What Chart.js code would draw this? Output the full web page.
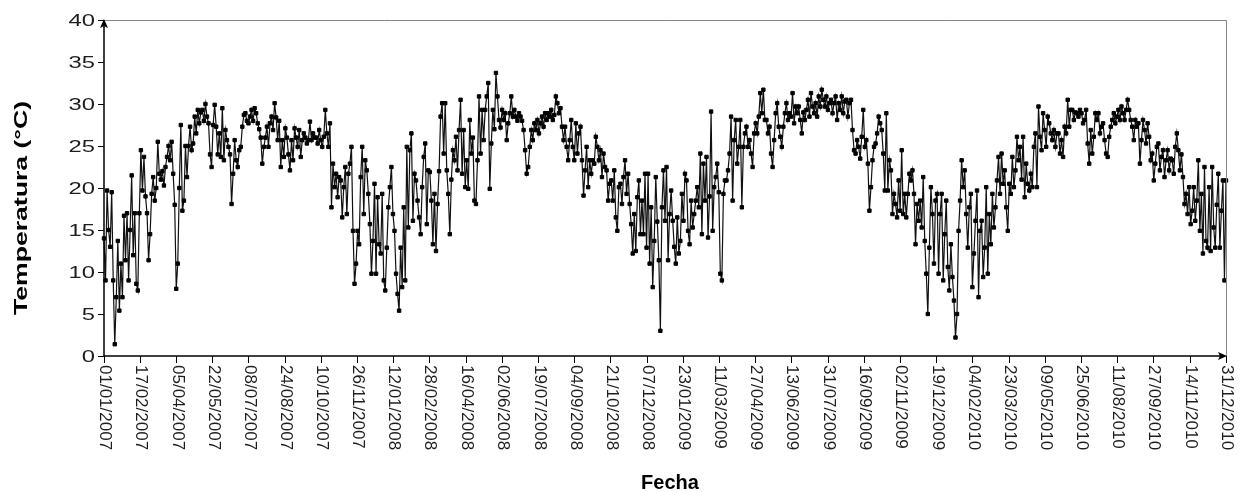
<!DOCTYPE html>
<html>
<head>
<meta charset="utf-8">
<title>Temperatura 2007-2010</title>
<script src="https://cdn.jsdelivr.net/npm/chart.js@4.4.1/dist/chart.umd.min.js"></script>
<style>
  html, body { margin: 0; padding: 0; background: #fff; }
  canvas { display: block; }
</style>
</head>
<body>
<canvas id="temp-chart" width="1247" height="492"></canvas>
<script>
// Temperature every second day, starting 01/01/2007
const dayStep = 2;

const temps2007 = [
    14, 9, 19.7, 15, 13, 19.5, 9, 1.4, 7, 13.7,
    5.4, 11, 7, 16.7, 11.4, 17, 9, 15, 21.5, 12,
    17, 8.6, 7.8, 17, 24.5, 19.7, 23.7, 19, 17, 11.4,
    14.5, 19.3, 21.3, 18.5, 20, 25.5, 21.7, 21, 22, 20.3,
    22.5, 23.7, 25, 23.3, 25.5, 21.7, 18, 8, 11, 20,
    27.5, 17.3, 18.5, 25, 21.3, 25, 27.3, 24.5, 25.3, 28.5,
    26.5, 29.3, 27.7, 29, 29.3, 28, 30, 28.5, 27.7, 24,
    22.5, 27.5, 29.9, 27.3, 24, 26.5, 23.7, 29.5, 23.3, 26.9,
    25.7, 24.9, 24, 18.1, 21.7, 25.7, 23.3, 22.5, 24.5, 24.9,
    27.3, 28.7, 28.9, 28, 27.7, 28.5, 29.3, 28, 29.5, 28.9,
    27.7, 27, 26, 22.9, 24.9, 26, 27.3, 24.9, 27.7, 28.5,
    26.9, 30.1, 28.4, 25.7, 28, 22.5, 25.7, 23.7, 27.1, 26,
    24, 22.1, 25.7, 23.3, 27.1, 26, 24.9, 26.9, 23.7, 25.7,
    26.5, 26, 25.3, 25.7, 27.9, 25.7, 26.5, 26, 26, 25.3,
    26.9, 25.7, 24.9, 26.1, 29.3, 26.5, 24.9, 27.7, 17.7, 22.9,
    20.1, 21.7, 18.9, 21.3, 20.9, 16.5, 20.1, 22.5, 16.9, 21.7,
    22.9, 24.9, 14.9, 8.6, 11, 14.9, 13.3, 21.3, 24.9, 16.9,
    23.3, 22.1, 19.3, 15.7, 9.8, 13.7, 20.5, 9.8, 18.9, 13.3,
    12.2, 19.3, 9
];

const temps2008 = [
    7.8, 12.9, 17.7, 20.1, 22.5, 16.9, 14.9, 9.8, 7.4, 5.4,
    12.9, 8.2, 17.7, 9, 24.9, 15.3, 24.5, 26.5, 16.1, 21.7,
    20.9, 18.5, 16.5, 14.5, 20.1, 23.7, 25.3, 15.7, 22.1, 21.9,
    18.5, 13.3, 19.3, 12.5, 18.1, 22, 28.5, 30.1, 24.1, 30.1,
    22.1, 19.3, 14.5, 21, 24.5, 23.3, 26.1, 22.1, 26.9, 30.5,
    21.7, 26.9, 20.1, 23.3, 19.9, 28.1, 24.1, 26, 18.5, 18.1,
    23.3, 30.9, 24.1, 29.3, 25.7, 29.3, 30.9, 32.5, 19.9, 25.3,
    29.3, 27, 33.7, 30.9, 28.1, 27.2, 29.3, 28.1, 28.9, 25.7,
    27.7, 28.9, 30.9, 28.5, 29.3, 28.5, 28, 28.9, 28.5, 28,
    26.9, 24.5, 21.7, 22.5, 24.9, 26.9, 25.7, 27.7, 26.9, 28.1,
    26.5, 27.7, 28.5, 27.3, 28.9, 28.1, 28.9, 28.5, 29.3, 28.1,
    28.7, 30.9, 30.1, 28.9, 29.5, 27.3, 25.7, 27.3, 24.9, 23.3,
    25.7, 28.1, 24.9, 23.3, 27.7, 24.1, 26.5, 27.3, 23.3, 19.1,
    22.1, 24.9, 20.1, 23.3, 21.7, 23.3, 22.9, 26.1, 24.9, 23.3,
    24.5, 21.3, 24.1, 22.5, 22.1, 18.5, 20.5, 20.9, 18.5, 22.1,
    16.5, 14.9, 20.1, 20.5, 18.1, 21.3, 23.3, 19.3, 21.7, 18.1,
    15.7, 12.2, 16.9, 12.5, 18.9, 20.9, 14.5, 18.5, 14.5, 21.7,
    12.9, 21.7, 11, 17.7, 8.2, 13.7, 21.3, 16, 11.4, 3,
    17.7, 22.1, 16.1
];

const temps2009 = [
    22.5, 11.4, 16.9, 19.7, 16.1, 13, 11, 16.5, 12.2, 13.7,
    19.3, 16.1, 21.7, 20.9, 14.9, 13.3, 18.5, 15.3, 16.9, 18.5,
    20.1, 17.7, 24.1, 14.5, 22.9, 18.5, 23.7, 14.1, 19, 29.1,
    14.9, 20.1, 21.3, 22.9, 19.5, 9.8, 9, 19.3, 20.9, 20.9,
    22.1, 24.1, 28.5, 18.5, 25.7, 28.1, 22.9, 24.9, 28.1, 17.7,
    24.9, 26.5, 27.3, 24.9, 25.7, 24.1, 22.5, 26.5, 27.7, 26.5,
    28.5, 31.3, 28.9, 31.7, 28.1, 28.1, 26.5, 27.3, 24.1, 22.5,
    25.7, 28.9, 30.1, 27.3, 26.1, 24.9, 27.3, 28.9, 30.1, 28.1,
    28.9, 28.5, 31.3, 27.7, 29.7, 28.9, 29.7, 28.1, 26.5, 29,
    28.1, 29.3, 30.5, 28.5, 31.3, 29.7, 28.9, 30.1, 28.5, 30.9,
    29.7, 31.7, 30.5, 29.7, 30.9, 29.3, 30.1, 30.5, 28.9, 30.1,
    30.9, 28.1, 30.1, 29.3, 30.9, 28.9, 30.3, 30.5, 28.5, 30.1,
    30.5, 26.9, 24.5, 24.1, 25.7, 24.9, 23.5, 26.1, 29.3, 24.9,
    25.7, 22.9, 17.3, 20.1, 23.3, 24.9, 25.3, 26.5, 28.5, 27.7,
    26.9, 24.1, 19.7, 28.9, 19.7, 23.3, 22.1, 16.9, 19.3, 18.1,
    16.5, 20.9, 17.3, 24.5, 16.9, 19.3, 16.5, 19.3, 21.7, 20.9,
    22.1, 19.3, 13.3, 18.1, 16.1, 18.5, 15.3, 21.3, 13.7, 9.8,
    5, 12.9, 20.1, 16.9, 11, 18.5, 19.3, 9.8, 16.9, 19.3,
    9, 14.5
];

const temps2010 = [
    18.5, 10.6, 7.8, 13.3, 9.4, 6.6, 2.2, 5, 14.9, 18.5,
    23.3, 20.1, 22.1, 16.9, 12.9, 17.7, 19.3, 8.2, 12.2, 16.1,
    19.7, 7, 14.9, 16.1, 9.4, 12.9, 20.1, 9.8, 16.9, 13.3,
    19.3, 15.3, 17.7, 20.9, 23.7, 19.3, 24.1, 20.5, 22.1, 17.7,
    14.9, 20.5, 19.3, 23.7, 20.1, 22.1, 26.1, 23.3, 24.9, 21,
    26.1, 18.9, 22.9, 20.5, 19.7, 21.7, 20.1, 24.9, 26.5, 20.1,
    29.7, 26.1, 24.5, 28.9, 26.9, 24.9, 28.5, 27.7, 26.5, 25.7,
    26.9, 24.9, 26.5, 26.5, 24.1, 25.7, 23.7, 27.3, 26.5, 30.5,
    27.3, 29.3, 29.3, 28.1, 29, 28.9, 28.5, 29.3, 28.9, 27.7,
    28.1, 29.3, 25.3, 22.9, 26.9, 24.1, 26.1, 28.9, 28.1, 28.9,
    26.5, 27.3, 27.7, 25.7, 24.1, 23.7, 26.1, 27.3, 28.1, 28.9,
    27.7, 28.5, 29.3, 28.1, 29.7, 28.9, 28.1, 29.3, 30.5, 29.3,
    28.1, 27.3, 25.7, 28.1, 27.3, 27.7, 22.9, 25.7, 28.1, 26.9,
    25.3, 27.7, 26.1, 23.3, 24.1, 20.9, 22.9, 24.9, 25.3, 22.1,
    23.7, 24.5, 21.3, 23.3, 24.5, 22.1, 23.5, 23.3, 21.7, 24.9,
    26.5, 24.5, 22.1, 24, 21.3, 18.1, 19.3, 16.9, 20.1, 15.7,
    17.3, 20.1, 16.1, 18.5, 23.3, 14.9, 19.3, 12.2, 22.5, 13.7,
    12.9, 20.1, 12.5, 22.5, 15.3, 12.9, 18, 21.7, 12.9, 17.3,
    20.9, 9, 20.9
];

const dateLabels = [
    '01/01/2007', '17/02/2007', '05/04/2007', '22/05/2007', '08/07/2007', '24/08/2007',
    '10/10/2007', '26/11/2007', '12/01/2008', '28/02/2008', '16/04/2008', '02/06/2008',
    '19/07/2008', '04/09/2008', '21/10/2008', '07/12/2008', '23/01/2009', '11/03/2009',
    '27/04/2009', '13/06/2009', '31/07/2009', '16/09/2009', '02/11/2009', '19/12/2009',
    '04/02/2010', '23/03/2010', '09/05/2010', '25/06/2010', '11/08/2010', '27/09/2010',
    '14/11/2010', '31/12/2010'
];

const yTicks = [0, 5, 10, 15, 20, 25, 30, 35, 40];
const yTitle = 'Temperatura (°C)';
const xTitle = 'Fecha';

// days since 01/01/2007 for a dd/mm/yyyy label
function dayIndex(label) {
    const [d, m, y] = label.split('/').map(Number);
    return (Date.UTC(y, m - 1, d) - Date.UTC(2007, 0, 1)) / 86400000;
}

const allTemps = temps2007.concat(temps2008, temps2009, temps2010);
const points = allTemps.map((v, i) => ({ x: i * dayStep, y: v }));
const lastDay = dayIndex(dateLabels[dateLabels.length - 1]);

const FONT = '"Liberation Sans", Arial, sans-serif';

// axes, arrows and all the text are drawn by hand to mimic the Excel look
const excelAxes = {
    id: 'excelAxes',
    afterDraw(chart) {
        const ctx = chart.ctx;
        const area = chart.chartArea;
        const xs = chart.scales.x;
        const ys = chart.scales.y;
        ctx.save();

        // grey frame top and right
        ctx.strokeStyle = '#868686';
        ctx.lineWidth = 1;
        ctx.beginPath();
        ctx.moveTo(area.left, area.top + 0.5);
        ctx.lineTo(area.right + 0.5, area.top + 0.5);
        ctx.lineTo(area.right + 0.5, area.bottom);
        ctx.stroke();

        // black axes
        ctx.strokeStyle = '#000';
        ctx.lineWidth = 1.5;
        ctx.beginPath();
        ctx.moveTo(area.left, area.top + 2);
        ctx.lineTo(area.left, area.bottom);
        ctx.lineTo(area.right - 2, area.bottom);
        ctx.stroke();

        // tick marks
        ctx.lineWidth = 1;
        ctx.beginPath();
        yTicks.forEach(v => {
            const py = Math.round(ys.getPixelForValue(v)) + 0.5;
            ctx.moveTo(area.left - 6, py);
            ctx.lineTo(area.left, py);
        });
        dateLabels.forEach(l => {
            const px = Math.round(xs.getPixelForValue(dayIndex(l))) + 0.5;
            ctx.moveTo(px, area.bottom);
            ctx.lineTo(px, area.bottom + 7);
        });
        ctx.stroke();

        // arrow heads
        ctx.fillStyle = '#000';
        ctx.beginPath();
        ctx.moveTo(area.left, area.top - 1);
        ctx.lineTo(area.left - 4, area.top + 8);
        ctx.lineTo(area.left, area.top + 6);
        ctx.lineTo(area.left + 4, area.top + 8);
        ctx.closePath();
        ctx.fill();
        ctx.beginPath();
        ctx.moveTo(area.right + 1, area.bottom);
        ctx.lineTo(area.right - 8, area.bottom - 4);
        ctx.lineTo(area.right - 6, area.bottom);
        ctx.lineTo(area.right - 8, area.bottom + 4);
        ctx.closePath();
        ctx.fill();

        // y tick labels (wide, like the original)
        ctx.fillStyle = '#1e1e1e';
        ctx.font = '17px ' + FONT;
        ctx.textAlign = 'right';
        ctx.textBaseline = 'middle';
        yTicks.forEach(v => {
            ctx.save();
            ctx.translate(area.left - 9, ys.getPixelForValue(v) + 1);
            ctx.scale(1.4, 1);
            ctx.fillText(String(v), 0, 0);
            ctx.restore();
        });

        // date labels, reading downwards
        ctx.font = '17px ' + FONT;
        ctx.textAlign = 'left';
        dateLabels.forEach(l => {
            ctx.save();
            ctx.translate(xs.getPixelForValue(dayIndex(l)) + 1, area.bottom + 9);
            ctx.rotate(Math.PI / 2);
            ctx.fillText(l, 0, 0);
            ctx.restore();
        });

        // axis titles
        ctx.fillStyle = '#000';
        ctx.font = 'bold 19px ' + FONT;
        ctx.textAlign = 'center';
        ctx.save();
        ctx.translate(22, 208);
        ctx.rotate(-Math.PI / 2);
        ctx.scale(1.4, 1);
        ctx.fillText(yTitle, 0, 0);
        ctx.restore();

        ctx.font = 'bold 20px ' + FONT;
        ctx.fillText(xTitle, 670, 483);

        ctx.restore();
    }
};

document.addEventListener('DOMContentLoaded', function () {
    const canvas = document.getElementById('temp-chart').getContext('2d');
    new Chart(canvas, {
        type: 'line',
        data: {
            datasets: [
                {
                    label: yTitle,
                    data: points,
                    borderColor: '#111',
                    borderWidth: 1.2,
                    pointStyle: 'rect',
                    pointRadius: 2.4,
                    pointBorderWidth: 1,
                    pointBackgroundColor: '#000',
                    pointBorderColor: '#000',
                    tension: 0,
                    clip: false,
                },
            ],
        },
        options: {
            responsive: false,
            animation: false,
            devicePixelRatio: 1,
            layout: { padding: { top: 20, right: 21, bottom: 0, left: 0 } },
            plugins: {
                legend: { display: false },
                tooltip: { enabled: false },
            },
            scales: {
                x: {
                    type: 'linear',
                    min: 0,
                    max: lastDay,
                    grid: { display: false },
                    border: { display: false },
                    ticks: { display: false },
                    afterFit(scale) { scale.height = 136; },
                },
                y: {
                    min: 0,
                    max: 40,
                    grid: { display: false },
                    border: { display: false },
                    ticks: { display: false, stepSize: 5 },
                    afterFit(scale) { scale.width = 104; },
                },
            },
        },
        plugins: [excelAxes],
    });
});
</script>
</body>
</html>
